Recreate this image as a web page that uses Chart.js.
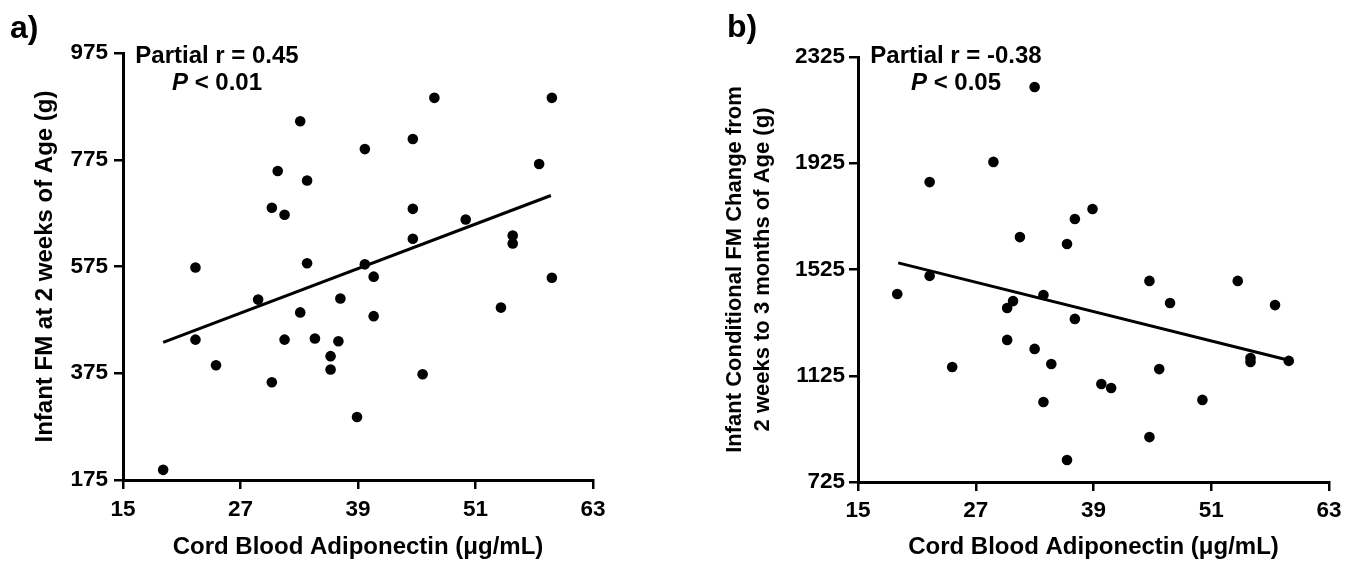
<!DOCTYPE html>
<html><head><meta charset="utf-8">
<script src="https://cdn.jsdelivr.net/npm/chart.js@4.4.1/dist/chart.umd.min.js"></script>
<style>
html,body{margin:0;padding:0;background:#fff;}
#wrap{position:relative;width:1358px;height:566px;overflow:hidden;background:#fff;}
.box{position:absolute;top:0;width:679px;height:566px;}
</style></head><body>
<div id="wrap">
<div class="box" style="left:0"><canvas id="cA"></canvas></div>
<div class="box" style="left:679px"><canvas id="cB"></canvas></div>
</div>
<script>
// ---- data ----
const xTicks = [15, 27, 39, 51, 63];
const yTicksA = [175, 375, 575, 775, 975];
const yTicksB = [725, 1125, 1525, 1925, 2325];

const adipA = [33.1,30.8,33.8,30.2,31.5,22.4,33.8,46.8,58.8,44.6,39.7,57.5,44.6,50.0,44.6,54.8,54.8,39.7,40.6,58.8,28.8,33.1,22.4,31.5,34.6,37.0,36.2,36.2,24.5,30.2,19.1,37.2,40.6,53.6,45.6,38.9];
const fmA   = [847,754,736,685,672,573,581,891,891,814,795,767,683,663,627,633,618,579,556,554,513,489,438,438,440,435,407,382,390,358,194,515,482,498,373,293];

const adipB = [33.0,28.8,22.3,31.5,38.9,37.1,36.3,22.3,19.0,30.2,30.8,30.2,24.6,44.7,53.7,46.8,57.5,33.9,37.1,33.0,34.7,39.8,40.8,33.9,45.7,55.0,55.0,58.9,50.1,44.7,36.3];
const fmB   = [2212,1930,1854,1647,1753,1715,1621,1501,1433,1380,1406,1260,1158,1482,1482,1399,1391,1429,1339,1226,1169,1094,1079,1026,1150,1192,1177,1181,1034,894,808];

const fitAx = [19.1, 58.7];
const fitAy = [433, 708];
const fitBx = [19.1, 58.8];
const fitBy = [1550, 1184];

const xTitle = 'Cord Blood Adiponectin (\u03bcg/mL)';
const yTitleA = 'Infant FM at 2 weeks of Age (g)';
const yTitleB = ['Infant Conditional FM Change from', '2 weeks to 3 months of Age (g)'];
const statsA = ['Partial r = 0.45', 'P', ' < 0.01'];
const statsB = ['Partial r = -0.38', 'P', ' < 0.05'];
const panelA = 'a)';
const panelB = 'b)';

// ---- rendering ----
const FF = "'Liberation Sans', Arial, Helvetica, sans-serif";
Chart.defaults.font.family = FF;
Chart.defaults.color = '#000';

function pts(xs, ys){ return xs.map((x,i)=>({x:x, y:ys[i]})); }

function statsPlugin(lines, cx, panel, panelX, panelY){
  return {
    id: 'stats',
    afterDraw(chart){
      const ctx = chart.ctx;
      ctx.save();
      ctx.fillStyle = '#000';
      ctx.textBaseline = 'alphabetic';
      ctx.textAlign = 'center';
      ctx.font = 'bold 24px ' + FF;
      ctx.fillText(lines[0], cx, 63);
      ctx.font = 'italic bold 24px ' + FF;
      const wP = ctx.measureText(lines[1]).width;
      ctx.font = 'bold 24px ' + FF;
      const wR = ctx.measureText(lines[2]).width;
      const start = cx - (wP + wR) / 2;
      ctx.textAlign = 'left';
      ctx.font = 'italic bold 24px ' + FF;
      ctx.fillText(lines[1], start, 90);
      ctx.font = 'bold 24px ' + FF;
      ctx.fillText(lines[2], start + wP, 90);
      ctx.font = 'bold 32px ' + FF;
      ctx.fillText(panel, panelX, panelY);
      ctx.restore();
    }
  };
}

function makeChart(id, xs, ys, fx, fy, yTicks, yTitle, yTitleFont, yTitlePad, yWidth, xHeight, pad, xTickPad, yTickPad, plugin){
  return new Chart(document.getElementById(id), {
    type: 'scatter',
    data: {
      datasets: [
        { data: pts(xs, ys), pointRadius: 5.3, pointHoverRadius: 5.3, backgroundColor: '#000', borderWidth: 0, order: 1 },
        { data: pts(fx, fy), showLine: true, pointRadius: 0, borderColor: '#000', borderWidth: 3, fill: false, order: 2 }
      ]
    },
    options: {
      responsive: true,
      maintainAspectRatio: false,
      animation: false,
      events: [],
      layout: { padding: pad },
      plugins: { legend: { display: false }, tooltip: { enabled: false } },
      scales: {
        x: {
          type: 'linear', min: xTicks[0], max: xTicks[xTicks.length-1],
          afterBuildTicks: s => { s.ticks = xTicks.map(v => ({value: v})); },
          afterFit: s => { s.height = xHeight; },
          grid: { drawOnChartArea: false, drawTicks: true, tickLength: 9, color: '#000', lineWidth: 2.5 },
          border: { display: true, color: '#000', width: 3 },
          ticks: { font: { size: 22.5, weight: 'bold' }, color: '#000', padding: xTickPad, maxRotation: 0, autoSkip: false, callback: v => String(v) },
          title: { display: true, text: xTitle, font: { size: 24, weight: 'bold' }, color: '#000', padding: { top: 0, bottom: 4.5 } }
        },
        y: {
          type: 'linear', min: yTicks[0], max: yTicks[yTicks.length-1],
          afterBuildTicks: s => { s.ticks = yTicks.map(v => ({value: v})); },
          afterFit: s => { s.width = yWidth; },
          grid: { drawOnChartArea: false, drawTicks: true, tickLength: 9, color: '#000', lineWidth: 2.5 },
          border: { display: true, color: '#000', width: 3 },
          ticks: { font: { size: 22.5, weight: 'bold' }, color: '#000', padding: yTickPad, autoSkip: false, callback: v => String(v) },
          title: { display: true, text: yTitle, font: yTitleFont, color: '#000', padding: { top: yTitlePad, bottom: 0 } }
        }
      }
    },
    plugins: [plugin]
  });
}

makeChart('cA', adipA, fmA, fitAx, fitAy, yTicksA, yTitleA,
  { size: 24, weight: 'bold', lineHeight: 1.2 }, 30.6, 123, 86,
  { left: 0, right: 86, top: 53, bottom: 0 }, 7, 6,
  statsPlugin(statsA, 217, panelA, 10, 38));

makeChart('cB', adipB, fmB, fitBx, fitBy, yTicksB, yTitleB,
  { size: 22, weight: 'bold', lineHeight: 1.27 }, 42, 179, 84,
  { left: 0, right: 29, top: 57, bottom: 0 }, 6, 4,
  statsPlugin(statsB, 277, panelB, 48, 37));
</script>
</body></html>
